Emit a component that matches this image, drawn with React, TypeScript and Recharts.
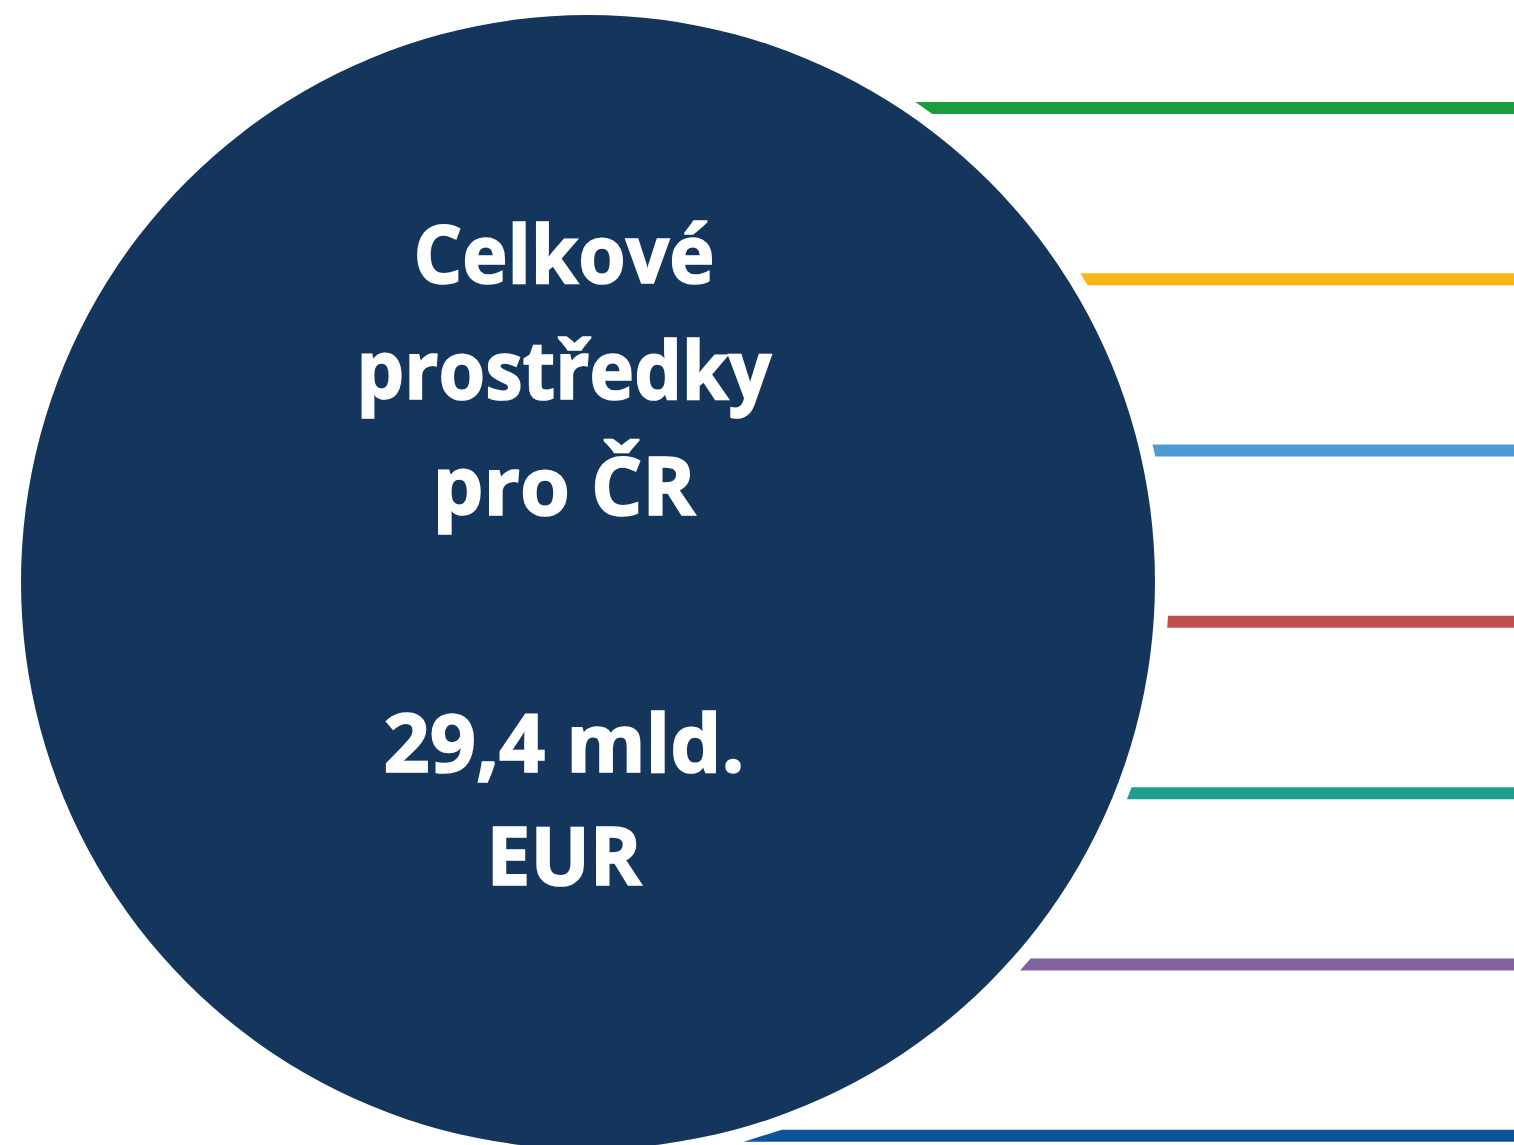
import React from 'react';
import { PieChart, Pie, Cell, Label, ComposedChart, Bar, XAxis, YAxis } from 'recharts';

// total for the country
const totalName = 'Celkové prostředky pro ČR';
const totalValue = 29.4;
const titleLines = ['Celkové', 'prostředky', 'pro ČR'];
const valueLines = ['29,4 mld.', 'EUR'];

// leader lines (labels are cut off in the picture)
const programs = ['p1', 'p2', 'p3', 'p4', 'p5', 'p6', 'p7'];
const programSpan = [1, 1, 1, 1, 1, 1, 1];
const programColors = ['#1b9c3e', '#fbb614', '#4f9ad2', '#c0504d', '#1e9f8e', '#8062a0', '#0c559c'];

const W = 1514;
const H = 1145;
const CX = 588;
const CY = 582;
const R = 567;
const GAP_R = 581;

const circleData = [{ name: totalName, value: totalValue }];
const lineData = programs.map((p, i) => ({ name: p, span: programSpan[i] }));

// text widths from the picture (Calibri is narrower than what we have)
const lineWidths: Record<string, number> = {
  'Celkové': 301,
  'prostředky': 415,
  'pro ČR': 263,
  '29,4 mld.': 361,
  'EUR': 155,
};

const CenterText = () => {
  const tx = 564;
  const base1 = [283, 399, 515];
  const base2 = [772, 885];
  const txtStyle = { fontFamily: '"Open Sans", sans-serif', fontWeight: 700, fontSize: 81 };
  const all = [
    ...titleLines.map((t, i) => ({ t, y: base1[i] })),
    ...valueLines.map((t, i) => ({ t, y: base2[i] })),
  ];
  return (
    <g>
      {all.map(({ t, y }) => (
        <text key={t} x={tx} y={y} textAnchor="middle" fill="#ffffff" stroke="#ffffff" strokeWidth={1.6}
          style={txtStyle} textLength={lineWidths[t]} lengthAdjust="spacingAndGlyphs">{t}</text>
      ))}
    </g>
  );
};

// bar whose left end follows the circle, like the slanted starts in the picture
const LeaderShape = (props: any) => {
  const { x, y, width, height, fill } = props;
  const edge = (yy: number) => {
    const d = GAP_R * GAP_R - (yy - CY) * (yy - CY);
    return d > 0 ? CX + Math.sqrt(d) : CX;
  };
  const x0 = edge(y);
  const x1 = edge(y + height);
  const right = x + width;
  const pts = `${x0},${y} ${right},${y} ${right},${y + height} ${x1},${y + height}`;
  return <polygon points={pts} fill={fill} />;
};

const App = () => {
  return (
    <div style={{ position: 'absolute', top: 0, left: 0, width: W, height: H, overflow: 'hidden', background: '#fff' }}>
      <div style={{ position: 'absolute', top: 0, left: 0 }}>
        <ComposedChart width={W} height={1221} data={lineData} layout="vertical"
          margin={{ top: 22, right: 0, bottom: 0, left: 0 }}>
          <XAxis type="number" domain={[0, 1]} hide />
          <YAxis type="category" dataKey="name" hide />
          <Bar dataKey="span" barSize={12} isAnimationActive={false} shape={<LeaderShape />}>
            {lineData.map((d, i) => (
              <Cell key={d.name} fill={programColors[i]} />
            ))}
          </Bar>
        </ComposedChart>
      </div>
      <div style={{ position: 'absolute', top: 0, left: 0 }}>
        <PieChart width={W} height={H} margin={{ top: 0, right: 0, bottom: 0, left: 0 }}>
          <Pie data={circleData} dataKey="value" nameKey="name" cx={CX} cy={CY}
            innerRadius={0} outerRadius={R} startAngle={90} endAngle={-270}
            stroke="none" isAnimationActive={false}>
            <Cell fill="#15365c" />
            <Label position="center" content={() => <CenterText />} />
          </Pie>
        </PieChart>
      </div>
    </div>
  );
};

export default App;
